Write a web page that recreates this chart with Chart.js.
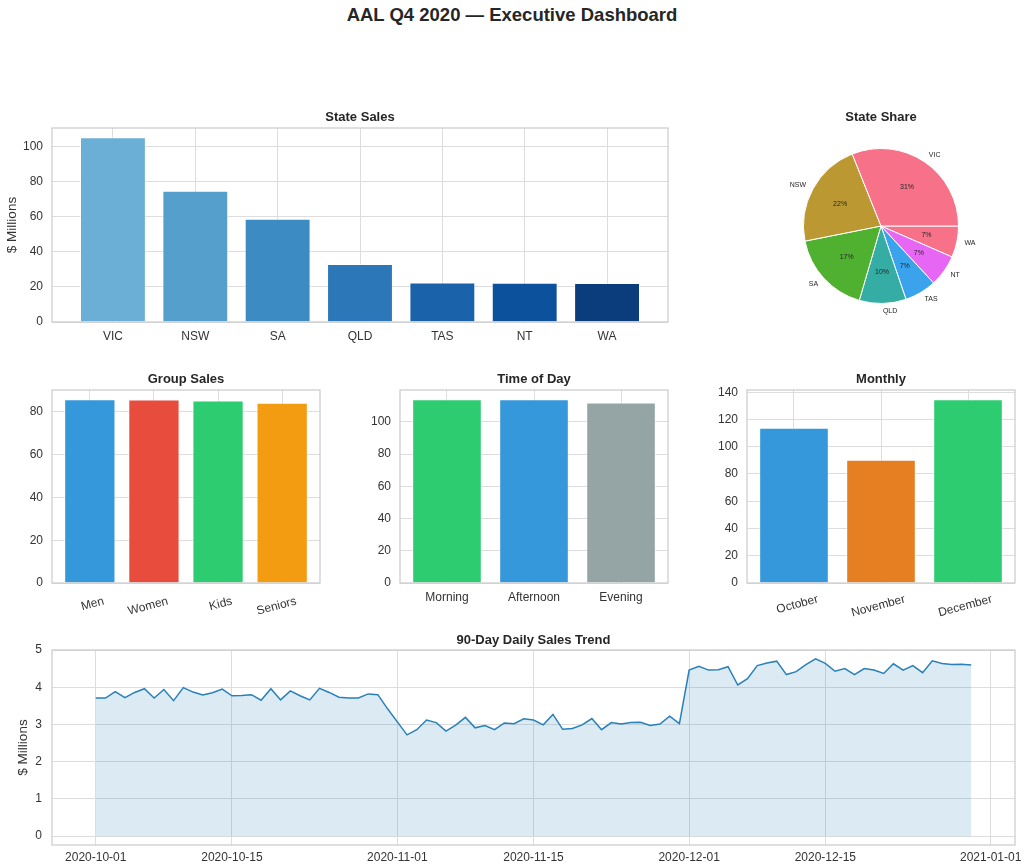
<!DOCTYPE html>
<html lang="en">
<head>
    <meta charset="UTF-8">
    <title>AAL Q4 2020 — Executive Dashboard</title>
    <script src="https://cdn.jsdelivr.net/npm/chart.js"></script>
    <style>
        body { margin: 0; background: #fff; }
        #wrap { position: relative; width: 1024px; height: 864px; overflow: hidden; }
        #wrap canvas { position: absolute; }
        h1 {
            position: absolute; left: 0; top: 4px; width: 1024px; margin: 0;
            text-align: center; font: bold 18.5px/22px "Liberation Sans", Arial, sans-serif; color: #262626;
        }
    </style>
</head>
<body>
<div id="wrap">
    <h1>AAL Q4 2020 — Executive Dashboard</h1>
    <canvas id="state-sales" width="720" height="250" style="left:0;top:105px"></canvas>
    <canvas id="state-share" width="236" height="230" style="left:763px;top:105px"></canvas>
    <canvas id="group-sales" width="372" height="256" style="left:0;top:368px"></canvas>
    <canvas id="time-of-day" width="388" height="256" style="left:340px;top:368px"></canvas>
    <canvas id="monthly" width="402" height="256" style="left:680px;top:368px"></canvas>
    <canvas id="trend" width="1067" height="239" style="left:0;top:625px"></canvas>
</div>

<script>
    // data
    const states = ['VIC', 'NSW', 'SA', 'QLD', 'TAS', 'NT', 'WA'];
    const stateSales = [105.4, 74.9, 58.9, 33.1, 22.5, 22.4, 22.2];
    const stateTicks = [0, 20, 40, 60, 80, 100];

    const groups = ['Men', 'Women', 'Kids', 'Seniors'];
    const groupSales = [85.9, 85.8, 85.3, 84.2];
    const groupTicks = [0, 20, 40, 60, 80];

    const dayParts = ['Morning', 'Afternoon', 'Evening'];
    const dayPartSales = [114.0, 114.0, 111.9];
    const dayPartTicks = [0, 20, 40, 60, 80, 100];

    const months = ['October', 'November', 'December'];
    const monthSales = [113.9, 90.4, 134.9];
    const monthTicks = [0, 20, 40, 60, 80, 100, 120, 140];

    // daily sales from 2020-10-01 to 2020-12-30 ($ millions)
    const dailySales = [
        3.71, 3.71, 3.88, 3.72, 3.86, 3.96, 3.71, 3.94, 3.64, 3.99,
        3.87, 3.79, 3.85, 3.95, 3.77, 3.78, 3.80, 3.65, 3.96, 3.66,
        3.90, 3.77, 3.66, 3.97, 3.86, 3.73, 3.71, 3.71, 3.82, 3.80,
        3.42, 3.07, 2.72, 2.86, 3.12, 3.05, 2.82, 2.98, 3.19, 2.91,
        2.97, 2.86, 3.04, 3.02, 3.15, 3.12, 2.99, 3.27, 2.87, 2.89,
        2.99, 3.16, 2.86, 3.05, 3.01, 3.05, 3.06, 2.97, 3.01, 3.22,
        3.02, 4.46, 4.56, 4.46, 4.47, 4.55, 4.06, 4.23, 4.58, 4.65,
        4.70, 4.34, 4.42, 4.61, 4.76, 4.64, 4.43, 4.50, 4.34, 4.50,
        4.46, 4.37, 4.63, 4.46, 4.58, 4.39, 4.71, 4.64, 4.61, 4.62,
        4.60
    ];
    const trendTicks = [0, 1, 2, 3, 4, 5];
    // day offsets from 2020-10-01 for the date ticks
    const dateTickDays = [0, 14, 31, 45, 61, 75, 92];
    const dateTickLabels = ['2020-10-01', '2020-10-15', '2020-11-01', '2020-11-15', '2020-12-01', '2020-12-15', '2021-01-01'];

    const stateColors = ['#6baed6', '#559fcd', '#3d8bc3', '#2b77b8', '#1a63aa', '#0b519c', '#0b3c7b'];
    const shareColors = ['#f77189', '#bb9832', '#50b131', '#36ada4', '#3ba3ec', '#e866f4', '#f77189'];

    Chart.defaults.font.family = '"Liberation Sans", Arial, sans-serif';
    Chart.defaults.color = '#333';

    const gridColor = '#dddddd';
    const tickFont = {size: 12};

    // box around the plot area, like the seaborn whitegrid spines
    const frame = {
        id: 'frame',
        afterDatasetsDraw(chart) {
            const a = chart.chartArea, c = chart.ctx;
            c.save();
            c.strokeStyle = '#cccccc';
            c.lineWidth = 1.25;
            c.strokeRect(a.left, a.top, a.right - a.left, a.bottom - a.top);
            c.restore();
        }
    };

    // fullSize off so the title centres over the plot area only
    function titleOpts(text, top, bottom) {
        return {
            display: true, text: text, color: '#262626', fullSize: false,
            font: {size: 13, weight: 'bold'},
            padding: {top: top, bottom: bottom}
        };
    }

    function barChart(id, labels, values, colors, yTicks, o) {
        const n = labels.length;
        const margin = 0.05 * (n - 1 + 0.8);
        return new Chart(document.getElementById(id), {
            type: 'bar',
            data: {
                datasets: [{
                    data: values.map((v, i) => ({x: i, y: v})),
                    backgroundColor: colors,
                    borderColor: 'rgba(255,255,255,0.6)',
                    borderWidth: 1,
                    barPercentage: 0.8,
                    categoryPercentage: 1
                }]
            },
            options: {
                responsive: false,
                animation: false,
                layout: {padding: {right: o.yWidth}},
                plugins: {
                    legend: {display: false},
                    tooltip: {enabled: false},
                    title: titleOpts(o.title, o.titleTop, o.titleBottom)
                },
                scales: {
                    x: {
                        type: 'linear',
                        offset: false,
                        min: -0.4 - margin,
                        max: n - 1 + 0.4 + margin,
                        afterBuildTicks: s => { s.ticks = labels.map((_, i) => ({value: i})); },
                        afterFit: s => { s.height = o.xHeight; s.paddingLeft = 0; s.paddingRight = 0; },
                        ticks: {
                            callback: v => labels[v],
                            minRotation: o.rot || 0,
                            maxRotation: o.rot || 0,
                            labelOffset: o.labelOffset || 0,
                            autoSkip: false,
                            padding: o.xPad || 7,
                            font: tickFont
                        },
                        grid: {color: gridColor, drawTicks: false, offset: false},
                        border: {display: false}
                    },
                    y: {
                        min: 0,
                        max: Math.max(...values) * 1.05,
                        afterBuildTicks: s => { s.ticks = yTicks.map(v => ({value: v})); },
                        afterFit: s => { s.width = o.yWidth; },
                        ticks: {padding: 9, font: tickFont},
                        grid: {color: gridColor, drawTicks: false},
                        border: {display: false},
                        title: o.yTitle ? {display: true, text: o.yTitle, font: {size: 13.5}, padding: {top: 4, bottom: 0}} : {display: false}
                    }
                }
            },
            plugins: [frame]
        });
    }

    barChart('state-sales', states, stateSales, stateColors, stateTicks, {
        title: 'State Sales', titleTop: 4.4, titleBottom: 3,
        yWidth: 52, xHeight: 33, yTitle: '$ Millions'
    });

    barChart('group-sales', groups, groupSales, ['#3498db', '#e74c3c', '#2ecc71', '#f39c12'], groupTicks, {
        title: 'Group Sales', titleTop: 3.2, titleBottom: 3.2,
        yWidth: 52, xHeight: 41, rot: 15, labelOffset: 14, xPad: 11
    });

    barChart('time-of-day', dayParts, dayPartSales, ['#2ecc71', '#3498db', '#95a5a6'], dayPartTicks, {
        title: 'Time of Day', titleTop: 3.2, titleBottom: 3.2,
        yWidth: 60, xHeight: 41
    });

    barChart('monthly', months, monthSales, ['#3498db', '#e67e22', '#2ecc71'], monthTicks, {
        title: 'Monthly', titleTop: 3.2, titleBottom: 3.2,
        yWidth: 67, xHeight: 41, rot: 15, labelOffset: 24, xPad: 9
    });

    // pie labels: state name outside, percent inside
    const pieLabels = {
        id: 'pieLabels',
        afterDatasetsDraw(chart) {
            const meta = chart.getDatasetMeta(0);
            const vals = chart.data.datasets[0].data;
            const total = vals.reduce((a, b) => a + b, 0);
            const c = chart.ctx;
            c.save();
            c.font = '7px "Liberation Sans", Arial, sans-serif';
            c.fillStyle = '#262626';
            c.textBaseline = 'middle';
            meta.data.forEach((arc, i) => {
                const p = arc.getProps(['x', 'y', 'startAngle', 'endAngle', 'outerRadius'], true);
                const mid = (p.startAngle + p.endAngle) / 2;
                const cos = Math.cos(mid), sin = Math.sin(mid);
                c.textAlign = 'center';
                c.fillText(Math.round(vals[i] / total * 100) + '%', p.x + cos * p.outerRadius * 0.6, p.y + sin * p.outerRadius * 0.6);
                c.textAlign = cos >= 0 ? 'left' : 'right';
                c.fillText(chart.data.labels[i], p.x + cos * p.outerRadius * 1.1, p.y + sin * p.outerRadius * 1.1);
            });
            c.restore();
        }
    };

    // matplotlib draws counter-clockwise from 3 o'clock; chart.js goes clockwise, so reverse
    new Chart(document.getElementById('state-share'), {
        type: 'pie',
        data: {
            labels: states.slice().reverse(),
            datasets: [{
                data: stateSales.slice().reverse(),
                backgroundColor: shareColors.slice().reverse(),
                borderColor: '#ffffff',
                borderWidth: 1
            }]
        },
        options: {
            responsive: false,
            animation: false,
            rotation: 90,
            layout: {padding: {left: 40, right: 40, top: 0, bottom: 31}},
            plugins: {
                legend: {display: false},
                tooltip: {enabled: false},
                title: titleOpts('State Share', 4.4, 23)
            }
        },
        plugins: [pieLabels]
    });

    new Chart(document.getElementById('trend'), {
        type: 'line',
        data: {
            datasets: [{
                data: dailySales.map((v, i) => ({x: i, y: v})),
                borderColor: '#2980b9',
                backgroundColor: 'rgba(41,128,185,0.17)',
                fill: 'origin',
                borderWidth: 1.5,
                pointRadius: 0,
                tension: 0
            }]
        },
        options: {
            responsive: false,
            animation: false,
            layout: {padding: {right: 52}},
            plugins: {
                legend: {display: false},
                tooltip: {enabled: false},
                title: titleOpts('90-Day Daily Sales Trend', 7.2, 2.2)
            },
            scales: {
                x: {
                    type: 'linear',
                    min: -4.5,
                    max: 94.5,
                    afterBuildTicks: s => { s.ticks = dateTickDays.map(v => ({value: v})); },
                    afterFit: s => { s.height = 19; s.paddingLeft = 0; s.paddingRight = 0; },
                    ticks: {
                        callback: v => dateTickLabels[dateTickDays.indexOf(v)],
                        maxRotation: 0,
                        autoSkip: false,
                        padding: 5,
                        font: tickFont
                    },
                    grid: {color: gridColor, drawTicks: false},
                    border: {display: false}
                },
                y: {
                    min: -0.238,
                    max: 5.0,
                    afterBuildTicks: s => { s.ticks = trendTicks.map(v => ({value: v})); },
                    afterFit: s => { s.width = 52; },
                    ticks: {padding: 10, font: tickFont},
                    grid: {color: gridColor, drawTicks: false},
                    border: {display: false},
                    title: {display: true, text: '$ Millions', font: {size: 13.5}, padding: {top: 15, bottom: 0}}
                }
            }
        },
        plugins: [frame]
    });
</script>
</body>
</html>
